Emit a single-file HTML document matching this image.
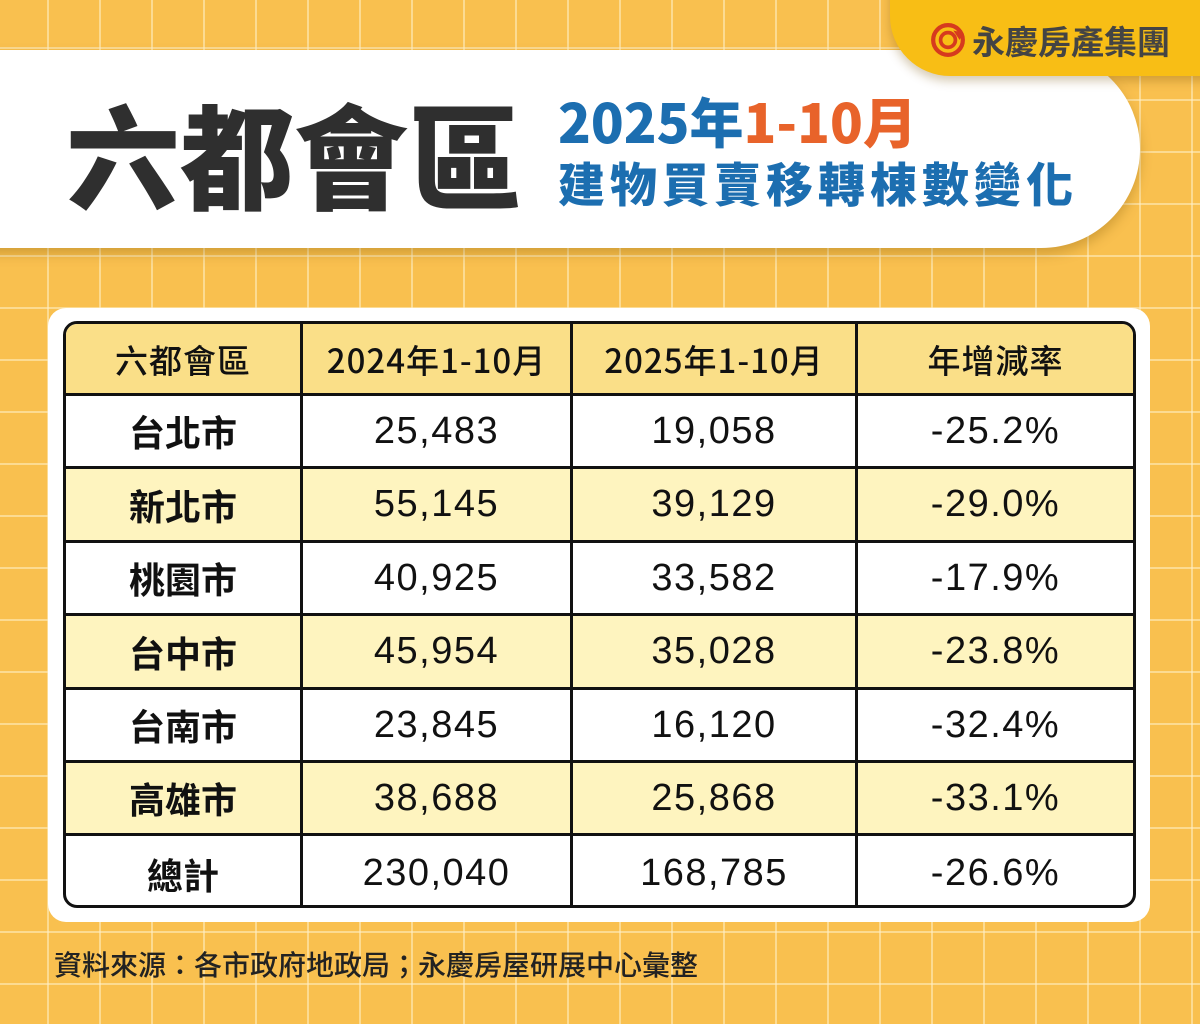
<!DOCTYPE html>
<html><head><meta charset="utf-8"><style>
*{margin:0;padding:0;box-sizing:border-box}
body{width:1200px;height:1024px;overflow:hidden;position:relative;background-color:#F9C04F;
background-image:linear-gradient(to right,rgba(255,240,200,.55) 2px,transparent 2px),linear-gradient(to bottom,rgba(255,240,200,.55) 2px,transparent 2px);
background-size:52px 52px;background-position:47px 47px;font-family:"Liberation Sans","Noto Sans CJK TC",sans-serif;}
.abs{position:absolute}
.banner{left:-40px;top:50px;width:1180px;height:198px;background:#fff;border-radius:0 100px 100px 0;box-shadow:0 6px 12px rgba(120,80,0,.3)}
.tab{left:890px;top:-40px;width:360px;height:116px;background:#F8BE15;border-radius:0 0 0 60px;box-shadow:0 5px 10px rgba(120,80,0,.3)}
.logo{left:930px;top:16px;font-size:33px;font-weight:bold;color:#444;font-family:"Noto Sans CJK TC",sans-serif;display:flex;align-items:center;gap:6px}
.title{left:66px;top:84px;font-size:114px;font-weight:900;color:#2f2f2f;font-family:"Noto Sans CJK TC",sans-serif;line-height:1.2}
.sub1{left:558px;top:88px;font-size:54px;font-weight:900;color:#1C6EB0;font-family:"Noto Sans CJK TC",sans-serif;line-height:1.2}
.sub2{left:558px;top:154px;font-size:47px;font-weight:900;color:#1C6EB0;font-family:"Noto Sans CJK TC",sans-serif;line-height:1.2;letter-spacing:5px}
.card{left:48px;top:308px;width:1102px;height:614px;background:#fff;border-radius:18px}
.tbl{left:63px;top:321px;width:1073px;height:587px;border:3px solid #111;border-radius:14px;overflow:hidden;background:#fff}
.row{position:absolute;left:0;width:1067px;display:flex;border-bottom:3px solid #111}
.row div{display:flex;align-items:center;justify-content:center;font-size:38px;letter-spacing:1.5px;color:#111;border-right:3px solid #111;height:100%}
.row div:last-child{border-right:none}
.c1{width:237px}.c2{width:270px}.c3{width:285px}.c4{flex:1}
.h div{font-size:33px;letter-spacing:1px;font-family:"Noto Sans CJK TC",sans-serif;font-weight:500}
.n{font-family:"Noto Sans CJK TC",sans-serif;font-weight:bold;font-size:36px !important;letter-spacing:0 !important}
.src{left:54px;top:944px;font-size:28px;color:#222;font-family:"Noto Sans CJK TC",sans-serif;font-weight:500}
</style></head><body>
<div class="abs banner"></div>
<div class="abs tab"></div>
<div class="abs logo"><svg width="36" height="36" viewBox="0 0 34 34"><circle cx="17" cy="17" r="14" fill="none" stroke="#D63A1E" stroke-width="4"/><circle cx="17" cy="17" r="7" fill="none" stroke="#D63A1E" stroke-width="3.5"/><path d="M22 8l9 2-3 7z" fill="#D63A1E"/></svg><span>永慶房產集團</span></div>
<div class="abs title">六都會區</div>
<div class="abs sub1">2025年<span style="color:#E8632A">1-10月</span></div>
<div class="abs sub2">建物買賣移轉棟數變化</div>
<div class="abs card"></div>
<div class="abs tbl">
<div class="row h" style="top:0;height:72px;background:#FADF88"><div class="c1">六都會區</div><div class="c2">2024年1-10月</div><div class="c3">2025年1-10月</div><div class="c4">年增減率</div></div>
<div class="row" style="top:72px;height:73px"><div class="c1 n">台北市</div><div class="c2">25,483</div><div class="c3">19,058</div><div class="c4">-25.2%</div></div>
<div class="row" style="top:145px;height:74px;background:#FEF4BF"><div class="c1 n">新北市</div><div class="c2">55,145</div><div class="c3">39,129</div><div class="c4">-29.0%</div></div>
<div class="row" style="top:219px;height:73px"><div class="c1 n">桃園市</div><div class="c2">40,925</div><div class="c3">33,582</div><div class="c4">-17.9%</div></div>
<div class="row" style="top:292px;height:74px;background:#FEF4BF"><div class="c1 n">台中市</div><div class="c2">45,954</div><div class="c3">35,028</div><div class="c4">-23.8%</div></div>
<div class="row" style="top:366px;height:73px"><div class="c1 n">台南市</div><div class="c2">23,845</div><div class="c3">16,120</div><div class="c4">-32.4%</div></div>
<div class="row" style="top:439px;height:73px;background:#FEF4BF"><div class="c1 n">高雄市</div><div class="c2">38,688</div><div class="c3">25,868</div><div class="c4">-33.1%</div></div>
<div class="row" style="top:512px;height:75px;border-bottom:none"><div class="c1 n">總計</div><div class="c2">230,040</div><div class="c3">168,785</div><div class="c4">-26.6%</div></div>
</div>
<div class="abs src">資料來源：各市政府地政局；永慶房屋研展中心彙整</div>
</body></html>
